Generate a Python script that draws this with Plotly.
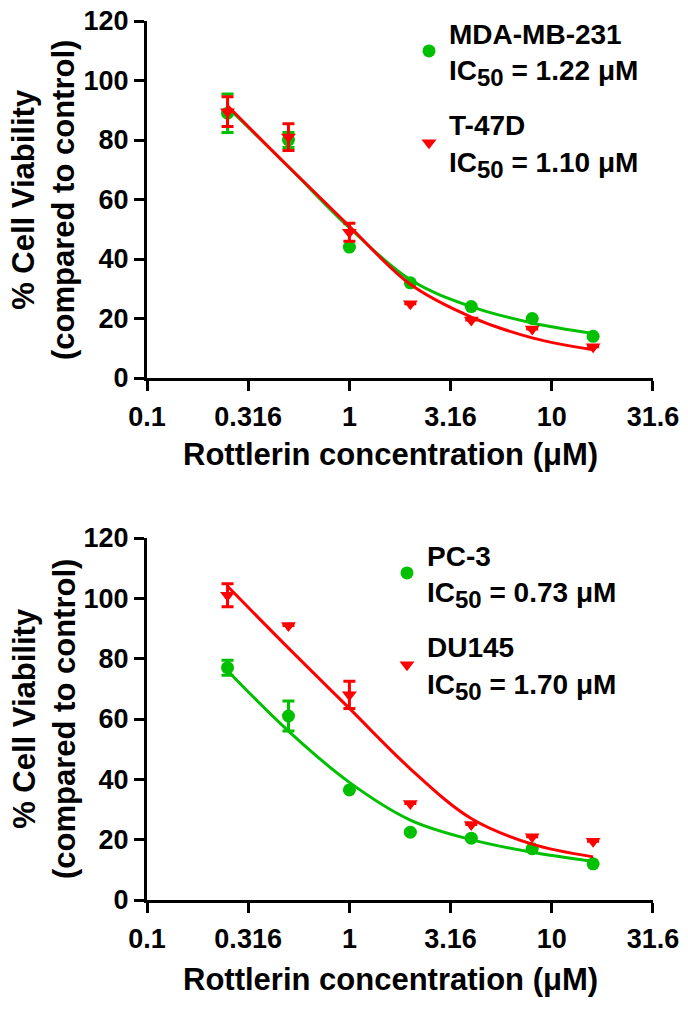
import plotly.graph_objects as go

# concentrations (uM)
conc = [0.25, 0.5, 1, 2, 4, 8, 16]

# top panel: breast lines
mda_mean = [89, 80, 44, 32, 24, 20, 14]
mda_err = [6.5, 2.5, 0, 0, 0, 0, 0]
mda_fit = [91, 71, 50.5, 33, 24, 18.5, 15]
t47d_mean = [89.5, 81, 49, 25, 19.5, 16.5, 10.5]
t47d_err = [5, 4.5, 3, 0, 0, 0, 0]
t47d_fit = [91.5, 71, 51, 31.5, 20.5, 13.5, 9.5]

# bottom panel: prostate lines
pc3_mean = [77, 61, 36.5, 22.5, 20.5, 17, 12]
pc3_err = [2.5, 5, 0, 0, 0, 0, 0]
pc3_fit = [76, 56, 39, 26.5, 20, 15.8, 12.8]
du_mean = [101, 91, 68, 32, 25, 21, 19.5]
du_err = [3.8, 0, 4.5, 0, 0, 0, 0]
du_fit = [104, 83.5, 63.5, 43.5, 27, 18.5, 14.3]

xtick_vals = [0.1, 0.316, 1, 3.16, 10, 31.6]
xtick_text = ["0.1", "0.316", "1", "3.16", "10", "31.6"]

GREEN = "#00c000"
RED = "#ff0000"
FONT = "Liberation Sans, Arial, sans-serif"
# page body has an 8px margin, so the figure is a bit smaller than the window
OFF = 8
W, H = 680, 1002


def px(x):
    return (x - OFF) / W


def py(y):
    return 1 - (y - OFF) / H


fig = go.Figure()


def add_set(mean, err, fit, color, symbol, label, xa, ya, leg):
    fig.add_trace(go.Scatter(x=conc, y=fit, mode="lines", xaxis=xa, yaxis=ya,
                             line=dict(color=color, width=3, shape="spline"),
                             showlegend=False, hoverinfo="skip"))
    fig.add_trace(go.Scatter(x=conc, y=mean, mode="markers", xaxis=xa, yaxis=ya,
                             marker=dict(color=color, size=13, symbol=symbol),
                             error_y=dict(type="data", array=err, visible=True,
                                          color=color, thickness=3, width=6),
                             name=label, legend=leg, legendgroup=label))


def ic50(name, val):
    return f'{name}<br>IC<sub><span style="font-size:24px">50</span></sub> = {val} μM'


add_set(mda_mean, mda_err, mda_fit, GREEN, "circle",
        ic50("MDA-MB-231", "1.22"), "x", "y", "legend")
add_set(t47d_mean, t47d_err, t47d_fit, RED, "triangle-down",
        ic50("T-47D", "1.10"), "x", "y", "legend")
add_set(pc3_mean, pc3_err, pc3_fit, GREEN, "circle",
        ic50("PC-3", "0.73"), "x2", "y2", "legend2")
add_set(du_mean, du_err, du_fit, RED, "triangle-down",
        ic50("DU145", "1.70"), "x2", "y2", "legend2")

xdom = [px(147), px(653)]
top_dom = [py(378), py(21)]
bot_dom = [py(900), py(538)]

tick_font = dict(family=FONT, size=27, color="black", weight="bold")

xax = dict(type="log", range=[-1, 1.5], tickvals=xtick_vals, ticktext=xtick_text,
           showline=True, linecolor="black", linewidth=3, ticks="outside",
           ticklen=10, tickwidth=3, tickcolor="black", showgrid=False,
           zeroline=False, automargin=False, domain=xdom, tickfont=tick_font,
           ticklabeloverflow="allow", ticklabelstandoff=3)
yax = dict(range=[0, 120], tickvals=[0, 20, 40, 60, 80, 100, 120],
           showline=True, linecolor="black", linewidth=3, ticks="outside",
           ticklen=10, tickwidth=3, tickcolor="black", showgrid=False,
           zeroline=False, automargin=False, tickfont=tick_font,
           ticklabeloverflow="allow")

leg = dict(font=dict(family=FONT, size=28, color="black", weight="bold"),
           bgcolor="rgba(0,0,0,0)", xanchor="left", yanchor="top",
           traceorder="grouped", tracegroupgap=16, itemclick=False)

fig.update_layout(
    width=W, height=H, margin=dict(l=0, r=0, t=0, b=0),
    paper_bgcolor="white", plot_bgcolor="white",
    font=dict(family=FONT, color="black"),
    xaxis=dict(xax, anchor="y"),
    yaxis=dict(yax, domain=top_dom, anchor="x"),
    xaxis2=dict(xax, anchor="y2"),
    yaxis2=dict(yax, domain=bot_dom, anchor="x2"),
    legend=dict(leg, x=px(409), y=py(8)),
    legend2=dict(leg, x=px(387), y=py(530)),
)

title_font = dict(family=FONT, size=31, color="black", weight="bold")
for yc, xt in [(200, 454), (719, 979)]:
    fig.add_annotation(xref="paper", yref="paper", x=px(44), y=py(yc),
                       text="% Cell Viability<br>(compared to control)",
                       textangle=-90, showarrow=False, font=title_font,
                       xanchor="center", yanchor="middle", borderpad=0)
    fig.add_annotation(xref="paper", yref="paper", x=px(390), y=py(xt),
                       text="Rottlerin concentration (μM)",
                       showarrow=False, font=title_font,
                       xanchor="center", yanchor="middle")

fig.write_html("out.html")
